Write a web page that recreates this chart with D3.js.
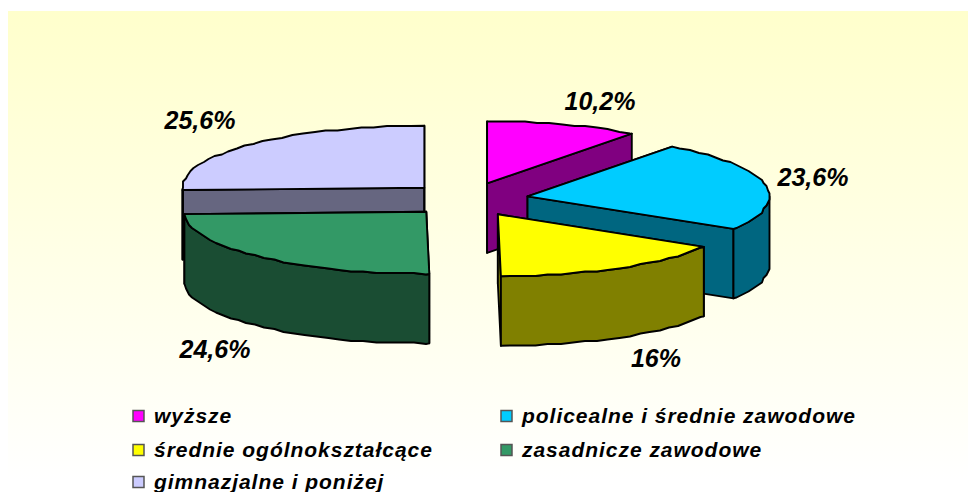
<!DOCTYPE html>
<html><head><meta charset="utf-8">
<script src="https://cdn.jsdelivr.net/npm/d3@7/dist/d3.min.js"></script>
<style>html,body{margin:0;background:#fff}svg{display:block}</style></head>
<body><svg id="c" width="968" height="492"></svg>
<script>
const categories = ["wyższe","policealne i średnie zawodowe","średnie ogólnokształcące","zasadnicze zawodowe","gimnazjalne i poniżej"];
const values = [10.2,23.6,16,24.6,25.6];
const valueLabels = ["10,2%","23,6%","16%","24,6%","25,6%"];
const topColors = ["#FF00FF","#00CCFF","#FFFF00","#339966","#CCCCFF"];
const wallColors = ["#800080","#006680","#808000","#1A4D33","#666680"];
const drawOrder = [4,0,1,2,3];

const svg=d3.select("#c");
const defs=svg.append("defs");
const g=defs.append("linearGradient").attr("id","bg").attr("x1",0).attr("y1",0).attr("x2",0).attr("y2",1);
g.append("stop").attr("offset",0).attr("stop-color","#FFFFCC");
g.append("stop").attr("offset",1).attr("stop-color","#FFFFFF");
svg.append("rect").attr("x",8).attr("y",11).attr("width",960).attr("height",470).attr("fill","url(#bg)");

const RX=242,RY=62,DEPTH=69.5,CX=468,CY=199.5,EXX=60.6,EXY=17,GRID=1.5,STEP=3*Math.PI/180;
const sx=d3.scaleLinear().domain([-1,1]).range([-RX,RX]);
const sy=d3.scaleLinear().domain([-1,1]).range([-RY,RY]);
const slices=d3.pie().sort(null).value(d=>d).startAngle(0).endAngle(2*Math.PI)(values);
const line=d3.line().curve(d3.curveLinear);

function rim(a,b,apex,dz,s){
  const ts=[a];
  for(let k=Math.floor(a/STEP+1e-6)+1;k*STEP<b-1e-6;k++) ts.push(k*STEP);
  ts.push(b);
  return ts.map(t=>{
    const x=apex[0]+sx(Math.sin(t)),y=apex[1]+sy(-Math.cos(t));
    const exact=t===s.startAngle||t===s.endAngle;
    return exact?[x,y+dz]:[Math.round(x/GRID)*GRID,Math.round(y/GRID)*GRID+dz];
  });
}
function face(pts,fill){
  svg.append("path").attr("d",line(pts)+"Z").attr("fill",fill)
    .attr("stroke","#000").attr("stroke-width",1.9).attr("stroke-linejoin","round");
}
drawOrder.forEach(i=>{
  const s=slices[i];
  const mid=(s.startAngle+s.endAngle)/2;
  const apex=[CX+EXX*Math.sin(mid),CY-EXY*Math.cos(mid)];
  const edge=t=>[apex[0]+sx(Math.sin(t)),apex[1]+sy(-Math.cos(t))];
  [s.startAngle,s.endAngle].forEach(t=>{
    const e=edge(t);
    face([apex,e,[e[0],e[1]+DEPTH],[apex[0],apex[1]+DEPTH]],wallColors[i]);
  });
  const a=Math.max(s.startAngle,Math.PI/2),b=Math.min(s.endAngle,3*Math.PI/2);
  if(b>a){
    const top=rim(a,b,apex,0,s),bot=rim(a,b,apex,DEPTH,s).reverse();
    face(top.concat(bot),wallColors[i]);
  }
  face([apex].concat(rim(s.startAngle,s.endAngle,apex,0,s)),topColors[i]);
});

const labelFont='italic bold 25px "Liberation Sans",Arial,sans-serif';
const labelPos=[[600,103],[813,179],[656,360],[215,351],[200,122]];
valueLabels.forEach((t,i)=>{
  svg.append("text").attr("x",labelPos[i][0]).attr("y",labelPos[i][1]).attr("text-anchor","middle")
    .attr("dominant-baseline","middle").style("font",labelFont).attr("fill","#000").text(t);
});

const legX=[133,501],legY=[416,450,482];
const cells=[[0,0],[1,0],[0,1],[1,1],[0,2]];
categories.forEach((t,i)=>{
  const [c,r]=cells[i];
  svg.append("rect").attr("x",legX[c]).attr("y",legY[r]-5.5).attr("width",11).attr("height",11)
    .attr("fill",topColors[i]).attr("stroke","#555").attr("stroke-width",1.5);
  svg.append("text").attr("x",legX[c]+21).attr("y",legY[r]+7)
    .style("font",'italic bold 21px "Liberation Sans",Arial,sans-serif').style("letter-spacing","0.97px").attr("fill","#000").text(t);
});
</script></body></html>
